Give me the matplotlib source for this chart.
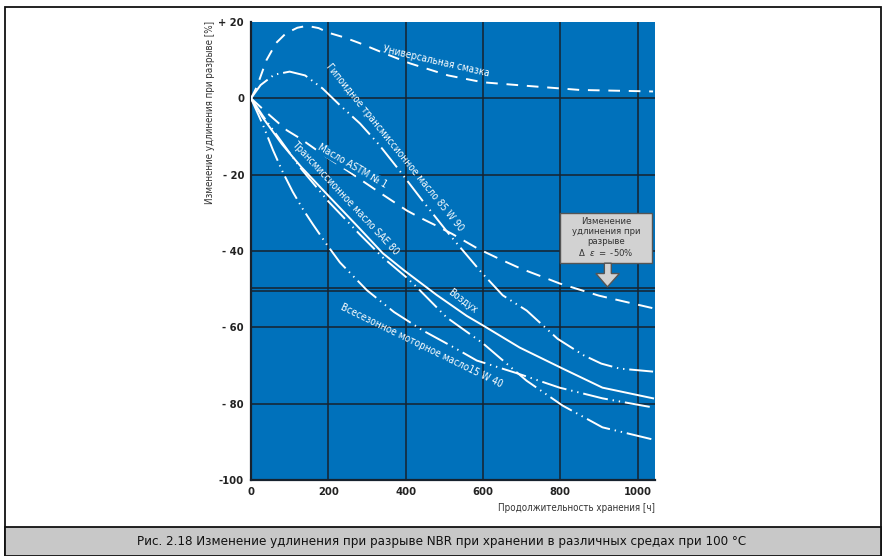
import matplotlib
matplotlib.use('Agg')
import matplotlib.pyplot as plt
from matplotlib.patches import Rectangle, Polygon

FONT = ['Liberation Sans Narrow', 'DejaVu Sans']
plt.rcParams['font.family'] = FONT
plt.rcParams['font.stretch'] = 'condensed'

# ---------------- data ----------------
x_ticks = [0, 200, 400, 600, 800, 1000]
x_ticklabels = ['0', '200', '400', '600', '800', '1000']
y_ticks = [20, 0, -20, -40, -60, -80, -100]
y_ticklabels = ['+ 20', '0', '- 20', '- 40', '- 60', '- 80', '-100']

grease_x = [0, 15, 40, 65, 90, 120, 145, 175, 200, 240, 280, 340, 410, 510, 600, 710, 850, 1040]
grease_y = [0, 3, 10, 14.5, 17, 18.5, 19, 18.4, 17.2, 16, 14.5, 12, 9.2, 6, 4.2, 3.3, 2.2, 1.8]

hypoid_x = [0, 25, 60, 100, 140, 185, 230, 282, 330, 377, 445, 514, 596, 651, 713, 793, 860, 906, 953, 1040]
hypoid_y = [0, 3.5, 6.2, 7, 6, 2.6, -1.8, -6.6, -12, -18, -27, -35.8, -45.6, -51.6, -55.6, -63, -67.3, -69.5, -70.8, -71.6]

astm_x = [0, 49, 93, 127, 190, 250, 330, 403, 436, 476, 520, 587, 643, 700, 760, 798, 900, 1040]
astm_y = [0, -4.5, -8.4, -10.5, -15, -19, -24.5, -29.4, -31.2, -33.2, -35.5, -39.4, -42.1, -44.7, -47, -48.5, -51.7, -55]

air_x = [0, 30, 80, 130, 200, 280, 341, 395, 480, 558, 600, 695, 806, 909, 1040]
air_y = [0, -5, -12, -18, -25.5, -34, -40.6, -45, -51.5, -57, -59.5, -65.3, -70.8, -75.8, -78.6]

sae_x = [0, 30, 80, 130, 200, 280, 341, 403, 429, 506, 600, 713, 806, 909, 1040]
sae_y = [0, -4.5, -11.5, -18.5, -27, -35.5, -41.7, -47, -49.5, -57.4, -64.2, -74, -80.5, -86.2, -89.4]

motor_x = [0, 31, 57, 83, 108, 134, 160, 196, 230, 300, 370, 444, 520, 584, 687, 798, 909, 1040]
motor_y = [0, -7, -13.6, -19.5, -24.5, -29, -33, -38.3, -43, -50.3, -56, -60.8, -65, -68.7, -72, -75.8, -78.6, -81]

# ---------------- figure ----------------
fig = plt.figure(figsize=(8.85, 5.56), dpi=100)
W, H = 885, 556
ax = fig.add_axes([251 / W, 1 - 480 / H, 404 / W, 458 / H])
ax.set_facecolor('#0071bb')
ax.set_xlim(0, 1045)
ax.set_ylim(-100, 20)

grid_c = '#17222e'
for gx in [200, 400, 600, 800, 1000]:
    ax.axvline(gx, color=grid_c, lw=1.1, zorder=1)
for gy in [0, -20, -40, -60, -80]:
    ax.axhline(gy, color=grid_c, lw=1.1, zorder=1)
ax.axhline(-49.6, color=grid_c, lw=1.1, zorder=1)
ax.axhline(-50.6, color=grid_c, lw=1.1, zorder=1)

for s in ['top', 'right']:
    ax.spines[s].set_visible(False)
for s in ['left', 'bottom']:
    ax.spines[s].set_color(grid_c)
    ax.spines[s].set_linewidth(1.6)

ax.set_xticks(x_ticks)
ax.set_xticklabels(x_ticklabels)
ax.set_yticks(y_ticks)
ax.set_yticklabels(y_ticklabels)
ax.tick_params(length=0, labelsize=8, colors='#222222')
ax.tick_params(axis='x', pad=5)
ax.tick_params(axis='y', pad=5)
for lab in ax.get_xticklabels() + ax.get_yticklabels():
    lab.set_fontweight('bold')

lw = 1.4
wc = 'white'
dashdotdot = (0, (13, 2.5, 0.7, 2.5, 0.7, 2.5))
ax.plot(grease_x, grease_y, color=wc, lw=lw, ls=(0, (6, 4.5)), zorder=3)
ax.plot(hypoid_x, hypoid_y, color=wc, lw=lw, ls=dashdotdot, zorder=3)
ax.plot(astm_x, astm_y, color=wc, lw=lw, ls=(0, (7.5, 4.5)), zorder=3)
ax.plot(air_x, air_y, color=wc, lw=lw, ls='-', zorder=3)
ax.plot(sae_x, sae_y, color=wc, lw=lw, ls=dashdotdot, zorder=3)
ax.plot(motor_x, motor_y, color=wc, lw=lw, ls=dashdotdot, zorder=3)

lab_kw = dict(color='white', fontsize=7.2, ha='center', va='center',
              rotation_mode='anchor', zorder=4)
ax.text(478, 9.7, 'Универсальная смазка', rotation=-13, **lab_kw)
ax.text(372, -12.8, 'Гипоидное трансмиссионное масло 85 W 90', rotation=-51, **lab_kw)
ax.text(263, -17.8, 'Масло ASTM № 1', rotation=-30,
        bbox=dict(boxstyle='square,pad=0.1', fc='#0071bb', ec='none'), **lab_kw)
ax.text(243, -26.2, 'Трансмиссионное масло SAE 80', rotation=-47, **lab_kw)
ax.text(548, -53, 'Воздух', rotation=-37, **lab_kw)
ax.text(440, -64.7, 'Всесезонное моторное масло15 W 40', rotation=-26, **lab_kw)

# callout box and arrow
ax.add_patch(Rectangle((800, -43.2), 238, 13.1, fc='#d2d2d2', ec='#555555', lw=1.0, zorder=6))
ax.text(919, -36.4, 'Изменение\nудлинения при\nразрыве\n' + r'$\Delta\ \ \varepsilon\ =$' + ' -50%',
        ha='center', va='center', fontsize=6.8, color='#333333', linespacing=1.15, zorder=7)
ax.add_patch(Polygon([(914, -43.2), (932, -43.2), (932, -45.9), (953, -45.9), (922, -49.4),
                      (892, -45.9), (914, -45.9)], closed=True,
                     fc='#d2d2d2', ec='#555555', lw=1.0, zorder=6))

# axis labels
fig.text(210 / W, 1 - 21 / H, 'Изменение удлинения при разрыве [%]', rotation=90,
         ha='center', va='top', fontsize=7, color='#333333')
fig.text(655 / W, 1 - 508 / H, 'Продолжительность хранения [ч]',
         ha='right', va='center', fontsize=7, color='#333333')

# frame and caption
fig.patches.append(Rectangle((5 / W, 0), 876 / W, 549 / H, transform=fig.transFigure,
                             fill=False, ec='#111111', lw=1.3))
fig.patches.append(Rectangle((5 / W, 0), 876 / W, 29 / H, transform=fig.transFigure,
                             fc='#c8c8c8', ec='#111111', lw=1.3))
fig.text(442 / W, 1 - 541 / H,
         'Рис. 2.18 Изменение удлинения при разрыве NBR при хранении в различных средах при 100 °C',
         ha='center', va='center', fontsize=9.5, color='#111111')

fig.savefig('out.png', dpi=100)
